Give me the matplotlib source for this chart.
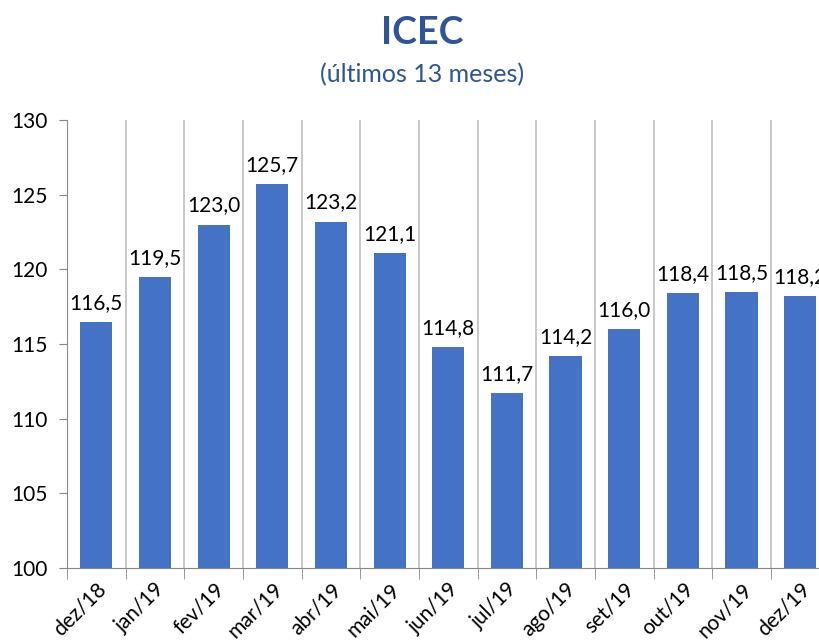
import numpy as np
import matplotlib.pyplot as plt

months = ['dez/18', 'jan/19', 'fev/19', 'mar/19', 'abr/19', 'mai/19', 'jun/19',
          'jul/19', 'ago/19', 'set/19', 'out/19', 'nov/19', 'dez/19']
icec = [116.5, 119.5, 123.0, 125.7, 123.2, 121.1, 114.8,
        111.7, 114.2, 116.0, 118.4, 118.5, 118.2]
y_ticks = [100, 105, 110, 115, 120, 125, 130]

plt.rcParams['font.family'] = ['Lato', 'DejaVu Sans']

fig = plt.figure(figsize=(8.2, 6.44), dpi=100)
ax = fig.add_axes([0.0817, 0.118, 0.930, 0.6957])

x = np.arange(len(months))
ax.bar(x, np.array(icec) - 100, bottom=100, width=0.55, color='#4472C4', zorder=3)

# value labels with comma decimal
for xi, v in zip(x, icec):
    ax.text(xi, v + 0.6, f'{v:.1f}'.replace('.', ','), ha='center', va='bottom',
            fontsize=15, color='black', zorder=4)

ax.set_xlim(-0.5, len(months) - 0.5)
ax.set_ylim(100, 130)
ax.set_yticks(y_ticks)
ax.tick_params(axis='y', labelsize=15, length=6, color='#888888', pad=8)

ax.set_xticks(x)
ax.set_xticklabels(months, rotation=45, ha='right', va='top',
                   rotation_mode='anchor', fontsize=15)
ax.tick_params(axis='x', which='major', length=0, pad=8)
# tick marks and gridlines between categories
ax.set_xticks(np.arange(-0.5, len(months)), minor=True)
ax.tick_params(axis='x', which='minor', length=8, color='#888888')
ax.grid(axis='x', which='minor', color='#BFBFBF', linewidth=1.2, zorder=0)

for side in ['top', 'right']:
    ax.spines[side].set_visible(False)
ax.spines['left'].set_color('#888888')
ax.spines['bottom'].set_color('#888888')

fig.text(0.515, 0.949, 'ICEC', ha='center', va='center', fontsize=27,
         fontweight='bold', color='#2F5597')
fig.text(0.515, 0.884, '(últimos 13 meses)', ha='center', va='center',
         fontsize=18, color='#2F5597')

fig.savefig('out.png', dpi=100)
